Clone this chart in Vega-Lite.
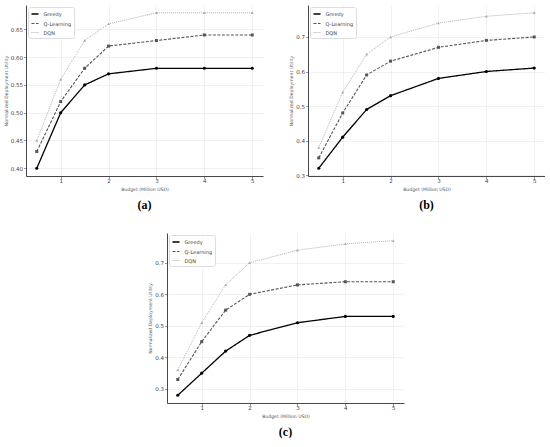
{
  "$schema": "https://vega.github.io/schema/vega-lite/v6.json",
  "padding": {"left": 3, "top": 5, "right": 0, "bottom": 0},
  "datasets": {
    "util": [
      {"panel": "a", "method": "Greedy", "budget": 0.5, "utility": 0.40},
      {"panel": "a", "method": "Greedy", "budget": 1, "utility": 0.50},
      {"panel": "a", "method": "Greedy", "budget": 1.5, "utility": 0.55},
      {"panel": "a", "method": "Greedy", "budget": 2, "utility": 0.57},
      {"panel": "a", "method": "Greedy", "budget": 3, "utility": 0.58},
      {"panel": "a", "method": "Greedy", "budget": 4, "utility": 0.58},
      {"panel": "a", "method": "Greedy", "budget": 5, "utility": 0.58},
      {"panel": "a", "method": "Q-Learning", "budget": 0.5, "utility": 0.43},
      {"panel": "a", "method": "Q-Learning", "budget": 1, "utility": 0.52},
      {"panel": "a", "method": "Q-Learning", "budget": 1.5, "utility": 0.58},
      {"panel": "a", "method": "Q-Learning", "budget": 2, "utility": 0.62},
      {"panel": "a", "method": "Q-Learning", "budget": 3, "utility": 0.63},
      {"panel": "a", "method": "Q-Learning", "budget": 4, "utility": 0.64},
      {"panel": "a", "method": "Q-Learning", "budget": 5, "utility": 0.64},
      {"panel": "a", "method": "DQN", "budget": 0.5, "utility": 0.45},
      {"panel": "a", "method": "DQN", "budget": 1, "utility": 0.56},
      {"panel": "a", "method": "DQN", "budget": 1.5, "utility": 0.63},
      {"panel": "a", "method": "DQN", "budget": 2, "utility": 0.66},
      {"panel": "a", "method": "DQN", "budget": 3, "utility": 0.68},
      {"panel": "a", "method": "DQN", "budget": 4, "utility": 0.68},
      {"panel": "a", "method": "DQN", "budget": 5, "utility": 0.68},
      {"panel": "b", "method": "Greedy", "budget": 0.5, "utility": 0.32},
      {"panel": "b", "method": "Greedy", "budget": 1, "utility": 0.41},
      {"panel": "b", "method": "Greedy", "budget": 1.5, "utility": 0.49},
      {"panel": "b", "method": "Greedy", "budget": 2, "utility": 0.53},
      {"panel": "b", "method": "Greedy", "budget": 3, "utility": 0.58},
      {"panel": "b", "method": "Greedy", "budget": 4, "utility": 0.60},
      {"panel": "b", "method": "Greedy", "budget": 5, "utility": 0.61},
      {"panel": "b", "method": "Q-Learning", "budget": 0.5, "utility": 0.35},
      {"panel": "b", "method": "Q-Learning", "budget": 1, "utility": 0.48},
      {"panel": "b", "method": "Q-Learning", "budget": 1.5, "utility": 0.59},
      {"panel": "b", "method": "Q-Learning", "budget": 2, "utility": 0.63},
      {"panel": "b", "method": "Q-Learning", "budget": 3, "utility": 0.67},
      {"panel": "b", "method": "Q-Learning", "budget": 4, "utility": 0.69},
      {"panel": "b", "method": "Q-Learning", "budget": 5, "utility": 0.70},
      {"panel": "b", "method": "DQN", "budget": 0.5, "utility": 0.38},
      {"panel": "b", "method": "DQN", "budget": 1, "utility": 0.54},
      {"panel": "b", "method": "DQN", "budget": 1.5, "utility": 0.65},
      {"panel": "b", "method": "DQN", "budget": 2, "utility": 0.70},
      {"panel": "b", "method": "DQN", "budget": 3, "utility": 0.74},
      {"panel": "b", "method": "DQN", "budget": 4, "utility": 0.76},
      {"panel": "b", "method": "DQN", "budget": 5, "utility": 0.77},
      {"panel": "c", "method": "Greedy", "budget": 0.5, "utility": 0.28},
      {"panel": "c", "method": "Greedy", "budget": 1, "utility": 0.35},
      {"panel": "c", "method": "Greedy", "budget": 1.5, "utility": 0.42},
      {"panel": "c", "method": "Greedy", "budget": 2, "utility": 0.47},
      {"panel": "c", "method": "Greedy", "budget": 3, "utility": 0.51},
      {"panel": "c", "method": "Greedy", "budget": 4, "utility": 0.53},
      {"panel": "c", "method": "Greedy", "budget": 5, "utility": 0.53},
      {"panel": "c", "method": "Q-Learning", "budget": 0.5, "utility": 0.33},
      {"panel": "c", "method": "Q-Learning", "budget": 1, "utility": 0.45},
      {"panel": "c", "method": "Q-Learning", "budget": 1.5, "utility": 0.55},
      {"panel": "c", "method": "Q-Learning", "budget": 2, "utility": 0.60},
      {"panel": "c", "method": "Q-Learning", "budget": 3, "utility": 0.63},
      {"panel": "c", "method": "Q-Learning", "budget": 4, "utility": 0.64},
      {"panel": "c", "method": "Q-Learning", "budget": 5, "utility": 0.64},
      {"panel": "c", "method": "DQN", "budget": 0.5, "utility": 0.36},
      {"panel": "c", "method": "DQN", "budget": 1, "utility": 0.51},
      {"panel": "c", "method": "DQN", "budget": 1.5, "utility": 0.63},
      {"panel": "c", "method": "DQN", "budget": 2, "utility": 0.70},
      {"panel": "c", "method": "DQN", "budget": 3, "utility": 0.74},
      {"panel": "c", "method": "DQN", "budget": 4, "utility": 0.76},
      {"panel": "c", "method": "DQN", "budget": 5, "utility": 0.77}
    ]
  },
  "data": {"name": "util"},
  "spacing": 22,
  "center": true,
  "resolve": {
    "scale": {"color": "independent", "strokeDash": "independent", "strokeWidth": "independent"},
    "legend": {"color": "independent", "strokeDash": "independent", "strokeWidth": "independent"}
  },
  "vconcat": [
    {
      "resolve": {
        "scale": {"color": "independent", "strokeDash": "independent", "strokeWidth": "independent"},
        "legend": {"color": "independent", "strokeDash": "independent", "strokeWidth": "independent"}
      },
      "hconcat": [
        {
          "width": 237,
          "height": 171,
          "title": {"text": "(a)"},
          "transform": [{"filter": "datum.panel == 'a'"}],
          "encoding": {
            "x": {"field": "budget", "type": "quantitative", "title": "Budget (Million USD)",
                  "scale": {"domain": [0.275, 5.225], "nice": false, "zero": false},
                  "axis": {"values": [1, 2, 3, 4, 5], "format": "d"}},
            "y": {"field": "utility", "type": "quantitative", "title": "Normalized Deployment Utility",
                  "scale": {"domain": [0.386, 0.694], "nice": false, "zero": false},
                  "axis": {"values": [0.40, 0.45, 0.50, 0.55, 0.60, 0.65], "format": ".2f"}},
            "color": {"field": "method", "type": "nominal", "title": null,
                      "scale": {"domain": ["Greedy", "Q-Learning", "DQN"], "range": ["#000000", "#555555", "#a8a8a8"]}}
          },
          "layer": [
            {
              "mark": {"type": "line"},
              "encoding": {
                "strokeDash": {"field": "method", "type": "nominal", "title": null,
                               "scale": {"domain": ["Greedy", "Q-Learning", "DQN"], "range": [[1, 0], [3, 1.5], [1, 1]]}},
                "strokeWidth": {"field": "method", "type": "nominal", "title": null,
                                "scale": {"domain": ["Greedy", "Q-Learning", "DQN"], "range": [1.3, 0.9, 0.7]}}
              }
            },
            {"transform": [{"filter": "datum.method == 'Greedy'"}], "mark": {"type": "point", "shape": "circle", "filled": true, "size": 10, "opacity": 1}},
            {"transform": [{"filter": "datum.method == 'Q-Learning'"}], "mark": {"type": "point", "shape": "square", "filled": true, "size": 9, "opacity": 1}},
            {"transform": [{"filter": "datum.method == 'DQN'"}], "mark": {"type": "point", "shape": "triangle-up", "filled": true, "size": 8, "opacity": 1}}
          ]
        },
        {
          "width": 237,
          "height": 171,
          "title": {"text": "(b)"},
          "transform": [{"filter": "datum.panel == 'b'"}],
          "encoding": {
            "x": {"field": "budget", "type": "quantitative", "title": "Budget (Million USD)",
                  "scale": {"domain": [0.275, 5.225], "nice": false, "zero": false},
                  "axis": {"values": [1, 2, 3, 4, 5], "format": "d"}},
            "y": {"field": "utility", "type": "quantitative", "title": "Normalized Deployment Utility",
                  "scale": {"domain": [0.2975, 0.7925], "nice": false, "zero": false},
                  "axis": {"values": [0.3, 0.4, 0.5, 0.6, 0.7], "format": ".1f"}},
            "color": {"field": "method", "type": "nominal", "title": null,
                      "scale": {"domain": ["Greedy", "Q-Learning", "DQN"], "range": ["#000000", "#555555", "#a8a8a8"]}}
          },
          "layer": [
            {
              "mark": {"type": "line"},
              "encoding": {
                "strokeDash": {"field": "method", "type": "nominal", "title": null,
                               "scale": {"domain": ["Greedy", "Q-Learning", "DQN"], "range": [[1, 0], [3, 1.5], [1, 1]]}},
                "strokeWidth": {"field": "method", "type": "nominal", "title": null,
                                "scale": {"domain": ["Greedy", "Q-Learning", "DQN"], "range": [1.3, 0.9, 0.7]}}
              }
            },
            {"transform": [{"filter": "datum.method == 'Greedy'"}], "mark": {"type": "point", "shape": "circle", "filled": true, "size": 10, "opacity": 1}},
            {"transform": [{"filter": "datum.method == 'Q-Learning'"}], "mark": {"type": "point", "shape": "square", "filled": true, "size": 9, "opacity": 1}},
            {"transform": [{"filter": "datum.method == 'DQN'"}], "mark": {"type": "point", "shape": "triangle-up", "filled": true, "size": 8, "opacity": 1}}
          ]
        }
      ],
      "spacing": 25
    },
    {
      "width": 237,
      "height": 170,
      "title": {"text": "(c)"},
      "transform": [{"filter": "datum.panel == 'c'"}],
      "encoding": {
        "x": {"field": "budget", "type": "quantitative", "title": "Budget (Million USD)",
              "scale": {"domain": [0.275, 5.225], "nice": false, "zero": false},
              "axis": {"values": [1, 2, 3, 4, 5], "format": "d"}},
        "y": {"field": "utility", "type": "quantitative", "title": "Normalized Deployment Utility",
              "scale": {"domain": [0.2555, 0.7945], "nice": false, "zero": false},
              "axis": {"values": [0.3, 0.4, 0.5, 0.6, 0.7], "format": ".1f"}},
        "color": {"field": "method", "type": "nominal", "title": null,
                  "scale": {"domain": ["Greedy", "Q-Learning", "DQN"], "range": ["#000000", "#555555", "#a8a8a8"]}}
      },
      "layer": [
        {
          "mark": {"type": "line"},
          "encoding": {
            "strokeDash": {"field": "method", "type": "nominal", "title": null,
                           "scale": {"domain": ["Greedy", "Q-Learning", "DQN"], "range": [[1, 0], [3, 1.5], [1, 1]]}},
            "strokeWidth": {"field": "method", "type": "nominal", "title": null,
                            "scale": {"domain": ["Greedy", "Q-Learning", "DQN"], "range": [1.3, 0.9, 0.7]}}
          }
        },
        {"transform": [{"filter": "datum.method == 'Greedy'"}], "mark": {"type": "point", "shape": "circle", "filled": true, "size": 10, "opacity": 1}},
        {"transform": [{"filter": "datum.method == 'Q-Learning'"}], "mark": {"type": "point", "shape": "square", "filled": true, "size": 9, "opacity": 1}},
        {"transform": [{"filter": "datum.method == 'DQN'"}], "mark": {"type": "point", "shape": "triangle-up", "filled": true, "size": 8, "opacity": 1}}
      ]
    }
  ],
  "config": {
    "view": {"stroke": null},
    "font": "DejaVu Sans",
    "title": {"orient": "bottom", "font": "Liberation Serif", "fontSize": 12, "fontWeight": "bold", "color": "#000000", "offset": 9, "anchor": "middle"},
    "axis": {
      "domainColor": "#333333", "domainWidth": 0.9,
      "tickColor": "#555555", "tickSize": 2.5, "tickWidth": 0.6,
      "labelFont": "DejaVu Sans", "labelFontSize": 5.5, "labelColor": "#444444", "labelPadding": 1,
      "titleFont": "DejaVu Sans", "titleFontSize": 4.6, "titleFontWeight": "normal", "titleColor": "#555555",
      "gridColor": "#e8e8e8", "gridWidth": 0.6
    },
    "axisX": {"titlePadding": 2, "labelPadding": 0},
    "axisY": {"titlePadding": 2},
    "legend": {
      "orient": "top-left", "offset": 2, "padding": 2.5,
      "strokeColor": "#dddddd", "fillColor": "#ffffff", "cornerRadius": 2,
      "labelFont": "DejaVu Sans", "labelFontSize": 5, "labelColor": "#444444", "labelOffset": 4,
      "symbolType": "stroke", "symbolSize": 50, "symbolStrokeWidth": 1, "rowPadding": 1.5
    }
  }
}
